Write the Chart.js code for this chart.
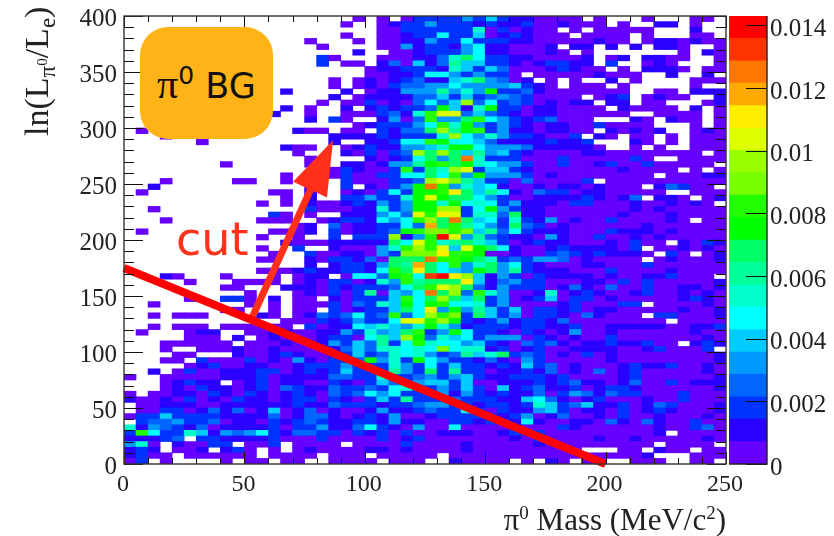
<!DOCTYPE html>
<html>
<head>
<meta charset="utf-8">
<title>pi0 BG</title>
<script src="https://cdn.jsdelivr.net/npm/chart.js@4/dist/chart.umd.min.js"></script>
<style>
html,body{margin:0;padding:0;background:#fff;}
#page{position:relative;width:834px;height:536px;overflow:hidden;font-family:"Liberation Serif",serif;color:#222;}
#page canvas{position:absolute;left:0;top:0;}
.label{position:absolute;white-space:nowrap;}
#box{left:140px;top:27px;width:133px;height:112px;border-radius:28px;background:#ffb316;color:#111;font:35px "DejaVu Sans",sans-serif;text-align:center;line-height:118px;}
#box i{font:normal 42px "Liberation Serif",serif;}
#box sup{font-size:25px;line-height:0;vertical-align:14px;}
#cut{left:176px;top:212px;color:#ff3319;font:46px "DejaVu Sans",sans-serif;}
#xtitle{right:108px;top:502px;font-size:31px;}
#ytitle{left:37px;top:136px;font-size:34px;transform-origin:0 0;transform:rotate(-90deg) translateY(-50%);}
sup,sub{line-height:0;}
#xtitle sup{font-size:19px;vertical-align:11px;}
#ytitle sub{font-size:23px;vertical-align:-7px;}
#ytitle sub sup{font-size:15px;vertical-align:8px;}
</style>
</head>
<body>
<div id="page">
<canvas id="heat" width="834" height="536"></canvas>
<canvas id="scale" width="834" height="536"></canvas>
<div class="label" id="box"><i>π</i><sup>0</sup> BG</div>
<div class="label" id="cut">cut</div>
<div class="label" id="xtitle">π<sup>0</sup> Mass (MeV/c<sup>2</sup>)</div>
<div class="label" id="ytitle">ln(L<sub>π<sup>0</sup></sub>/L<sub>e</sub>)</div>
</div>
<script>

// bins: 5 MeV wide, 5 units tall. rows go top (395-400) to bottom (0-5)
// each char is the colour band, "." = empty bin
const binWidth = 5
const binHeight = 5
const yMax = 400
const xMax = 250
const zMax = 0.0143

const bandColors = ["#6600ff","#2a00ff","#0033ff","#0066ff","#0099ff","#00ccff","#00ffff","#00ffcc","#00ff99","#00ff66",
"#00ff00","#22ff00","#77ff00","#99ff00","#ddff00","#ffee00","#ffaa00","#ff7700","#ff3300","#ff0000"]

const zTicks = [0,0.002,0.004,0.006,0.008,0.01,0.012,0.014]

const cutLineX = [0,200]
const cutLineY = [175,0]
const arrowShaftX = [52.7,77.7]
const arrowShaftY = [128.6,246]
const arrowHeadX = [70.2,86.8,84.3]
const arrowHeadY = [252,289,238]

// mass 0-90
const levelsLow = [
"..................",
"..................",
"..................",
"..................",
"...............1..",
"................1.",
"..................",
"................31",
"................3.",
"..................",
"..................",
".................1",
".................1",
".............2....",
".................2",
"................1.",
".............2.1..",
"............2..1..",
"...............2.3",
"..................",
".1............211.",
"...1.............2",
"......1..........2",
".............211..",
"..............1...",
"...............1..",
"........1......1..",
".................1",
".............1.1.1",
"...1.....11..1.1..",
"..2............1..",
".1..........11.2..",
".............1.2..",
"...........1.1.211",
"..1............311",
"............31.1..",
"...1.......111..12",
"..............12.4",
".1..........1112.3",
"...........1..1..3",
".............21112",
"...........1..3..2",
"............1..311",
"...........11..213",
"...............2.2",
"...........1112322",
"...21...1...1.122.",
".....1...1111.1213",
"........11...22213",
"..........1...1213",
".....1..331.2.11.2",
"..1.......1.1.1113",
"........11..1.11.3",
"..1.111....21.1243",
".............11132",
"..1.111.111111.312",
".1...122..11221122",
".....111.2.1211123",
"...111111.11121125",
"...1..111211211112",
"....11...211232112",
"...11.311131215213",
".....1231122112333",
"..2.13112223312323",
"1..111112223122224",
"...12322.123122113",
"...121322123143224",
"1.1122132132123214",
"211213121322123313",
".11222112222223224",
".11331242412612412",
"133633332222412442",
".34453341221323432",
"825432412222313352",
"3c7338625457324433",
"22234.332222311131",
"581.21133.113.1111",
"232.112.231.1.1211",
"2311.111111.1111.1",
"13.1....1.11.11..1"
]

// mass 90-175
const levelsMid = [
".1.1.133335363221",
"1..12335333232231",
"...11333333813121",
"1..11233733612321",
".1.11225337333221",
"...11523325722111",
".2..1123335722111",
"...1112248a733221",
"11.24162496633212",
"..122333286364111",
"..1122377535331.1",
".1212342268a5412.",
".1213445575555632",
"2.1225559585b3342",
".1222244636345431",
"1131214746e473431",
"2.232334b628b3312",
"1113428cff4643212",
"1..2514c55ac75323",
".1233357c8b535321",
"11.3244ae9bc35221",
"222323338e7585332",
"..22377cb77642222",
"123225568bb755542",
"213134eaea6956321",
"..21237a5ai833311",
"2212559bcab875531",
"32113c3a8ef366321",
"3113377a7c5b55531",
"3111334efd9633141",
"3.2135bic58672112",
"121373bbcga697214",
"335338bfbaa753112",
"232535bb8b7873522",
"122835bbee37b5322",
"222574fcgf3884a22",
"332757ceaia673832",
"1223374hac9753a43",
"12234bcddcd694732",
".333e25ckf5943221",
"2222a7fc89a863123",
"11158cecf6fba7211",
"22153dddgccb11211",
"3241aaaiccba83435",
"3325a9ha7c58a5732",
"3327caga765ba5932",
"1774bc7jkge625313",
"31285c9aaag624533",
"233347acfea425333",
"1391657iae4c85112",
"13336c7aea6a35123",
"14386b7bc77835111",
"12336a7g5b5963613",
"4734c47ecd3a63513",
"35337ffceb3235233",
"2768658b852333233",
"53856ac35b7332132",
"31796eb4867355513",
"364937c8775632143",
"46488787d78823123",
"3634878534968a343",
"34b583b7533242153",
"53338537363323263",
"6333953a393312232",
"43383345356322333",
"21364356636112223",
"33437833536316234",
"34757333525323224",
"21363933343332267",
"33323345533233238",
"11252234337313225",
"12325112333332351",
"23325221133233272",
"24732151171111311",
"13231311222112333",
"11131231111111213",
".1111311112111112",
"11221211112111111",
"11.11111.11111111",
"111.111..21111.1."
]

// mass 175-250
const levelsHigh = [
"111.1...1...11.",
"12111.1..22.1..",
"1.1.11111...2..",
"11.1111.1...11.",
"1111211.1221211",
"2.22.2.2.221..1",
"21.1.......1.21",
"1112.12.2211..1",
"3322.3..121...1",
"23211.1.2221.11",
"11112111..2..2.",
"1.1..2.1....111",
"1.111.1.....1..",
"1111111..11.222",
"111.123.1211..2",
"2122.22.11...12",
"21111.21111.2.1",
"2111111..1111.1",
"4111...21.211.1",
"221131111...1.1",
"2211.21212..121",
"113.21.11.1.111",
"3223...21.1.111",
"22221..1.1..111",
"1112211111111.1",
"131111131..1111",
"13112311311111.",
"11111121111.1.1",
"211111111.11122",
"1113.1111111111",
"12212111.24311.",
"3312211111..111",
"22232124.221.12",
"21331112112121.",
"111111121211111",
"111111211121111",
"512113111121.11",
"121111112111111",
"221113222121111",
"521131121211111",
"2211121311.2132",
"23222213.112121",
"343232221.31.12",
"54121111.121112",
"111221113111111",
"221113111121111",
"22221211223111.",
"111221313111112",
"124214113112212",
"812321123112121",
"613312111112321",
"12311133.111121",
"323122111112112",
"32142111.331112",
"2411111111.1111",
"223112222211223",
"125112111111211",
"212113111111121",
"42122322311.232",
"11222211231113.",
"121312111111112",
"111112111111112",
"412111232231121",
"412141231111121",
"231111231111112",
"234221241131222",
"223123321111112",
"135424331113111",
"421231112113111",
"634622312431112",
"631221312321112",
"241121311211121",
"112214214211311",
"132111111211341",
"1111111112.1111",
"111121121111121",
"111111111.1111.",
"111...11.211.11",
"111111112...111",
"21.11..111..11."
]

const bandWidth = zMax/bandColors.length

let cells = []
let cellColors = []

function addCells(rows, firstBin){
rows.forEach((row,r)=>{
for(let c=0;c<row.length;c++){
let ch = row.charAt(c)
if(ch == ".") continue
let band = parseInt(ch,36)
let z = (band-0.5)*bandWidth
let top = yMax-r*binHeight
cells.push({x:(firstBin+c+0.5)*binWidth, y:[top-binHeight,top], z:z})
cellColors.push(bandColors[Math.floor(z/bandWidth)])
}
})
}

addCells(levelsLow,0)
addCells(levelsMid,18)
addCells(levelsHigh,35)

function zip(xs,ys){
return xs.map((x,i)=>({x:x,y:ys[i]}))
}

// ROOT style ticks pointing into the frame
function inwardTicks(chart,scale,values,lenFor,edges){
let ctx = chart.ctx
let a = chart.chartArea
ctx.save()
ctx.strokeStyle = "#111"
ctx.lineWidth = 1
ctx.beginPath()
values.forEach(v=>{
let p = Math.round(scale.getPixelForValue(v))+0.5
let len = lenFor(v)
edges.forEach(e=>{
if(e=="bottom"){ctx.moveTo(p,a.bottom);ctx.lineTo(p,a.bottom-len)}
if(e=="top"){ctx.moveTo(p,a.top);ctx.lineTo(p,a.top+len)}
if(e=="left"){ctx.moveTo(a.left,p);ctx.lineTo(a.left+len,p)}
if(e=="right"){ctx.moveTo(a.right,p);ctx.lineTo(a.right-len,p)}
})
})
ctx.stroke()
ctx.restore()
}

function steps(max,step){
let out = []
for(let v=0;v<=max;v+=step) out.push(v)
return out
}

// label overhang would push the plot area in, so drop it
function fitAxis(s,prop,size){
s[prop] = size
s.paddingTop = 0
s.paddingBottom = 0
s.paddingLeft = 0
s.paddingRight = 0
}

const frame = {
id:"frame",
afterDraw(chart){
let a = chart.chartArea
let ctx = chart.ctx
inwardTicks(chart,chart.scales.x,steps(xMax,10),v=>v%50==0?12:6,["bottom","top"])
inwardTicks(chart,chart.scales.y,steps(yMax,10),v=>v%50==0?19:10,["left","right"])
ctx.save()
ctx.strokeStyle = "#333"
ctx.lineWidth = 1.4
ctx.strokeRect(a.left,a.top,a.right-a.left,a.bottom-a.top)
ctx.restore()
}
}

new Chart(document.getElementById("heat"),{
data:{
datasets:[
{type:"line",data:zip(cutLineX,cutLineY),borderColor:"#ff0000",borderWidth:8,pointRadius:0,order:0,clip:false},
{type:"line",data:zip(arrowShaftX,arrowShaftY),borderColor:"#ff2f19",borderWidth:7,pointRadius:0,order:0,clip:false},
{type:"line",data:zip(arrowHeadX,arrowHeadY),borderWidth:0,backgroundColor:"#ff2f19",fill:"shape",pointRadius:0,order:0,clip:false},
{type:"bar",data:cells,backgroundColor:cellColors,borderWidth:0,barPercentage:1,categoryPercentage:1,grouped:false,order:1}
]
},
options:{
responsive:false,
animation:false,
events:[],
layout:{padding:{left:0,top:16,right:108,bottom:0}},
plugins:{legend:{display:false},tooltip:{enabled:false}},
scales:{
x:{
type:"linear",min:0,max:xMax,offset:false,
grid:{display:false,offset:false,drawTicks:false},border:{display:false},
ticks:{stepSize:50,padding:6,labelOffset:-1,maxRotation:0,autoSkip:false,color:"#222",font:{family:"Liberation Serif",size:24}},
afterFit(s){fitAxis(s,"height",72)}
},
y:{
min:0,max:yMax,
grid:{display:false,drawTicks:false},border:{display:false},
ticks:{stepSize:50,padding:7,labelOffset:3,autoSkip:false,color:"#222",font:{family:"Liberation Serif",size:25}},
afterFit(s){fitAxis(s,"width",124)}
}
}
},
plugins:[frame]
})

// colour scale, one floating bar per band
const scaleFrame = {
id:"scaleFrame",
afterDraw(chart){
let a = chart.chartArea
let ctx = chart.ctx
inwardTicks(chart,chart.scales.y,zTicks,v=>21,["right"])
ctx.save()
ctx.strokeStyle = "#222"
ctx.lineWidth = 1.4
ctx.beginPath()
ctx.moveTo(a.left,a.bottom)
ctx.lineTo(a.right,a.bottom)
ctx.lineTo(a.right,a.top)
ctx.stroke()
ctx.restore()
}
}

new Chart(document.getElementById("scale"),{
data:{
labels:[""],
datasets:bandColors.map((col,i)=>({
type:"bar",
data:[[i*bandWidth,(i+1)*bandWidth]],
backgroundColor:col,
borderWidth:0,
barPercentage:1,
categoryPercentage:1,
grouped:false
}))
},
options:{
responsive:false,
animation:false,
events:[],
layout:{padding:{left:729,top:16,right:0,bottom:72}},
plugins:{legend:{display:false},tooltip:{enabled:false}},
scales:{
x:{display:false},
y:{
position:"right",min:0,max:zMax,
grid:{display:false,drawTicks:false},border:{display:false},
afterBuildTicks(s){s.ticks = zTicks.map(v=>({value:v}))},
ticks:{padding:3,labelOffset:4,autoSkip:false,color:"#222",font:{family:"Liberation Serif",size:25},
callback:v=>String(v)},
afterFit(s){fitAxis(s,"width",67)}
}
}
},
plugins:[scaleFrame]
})

</script>
</body>
</html>
